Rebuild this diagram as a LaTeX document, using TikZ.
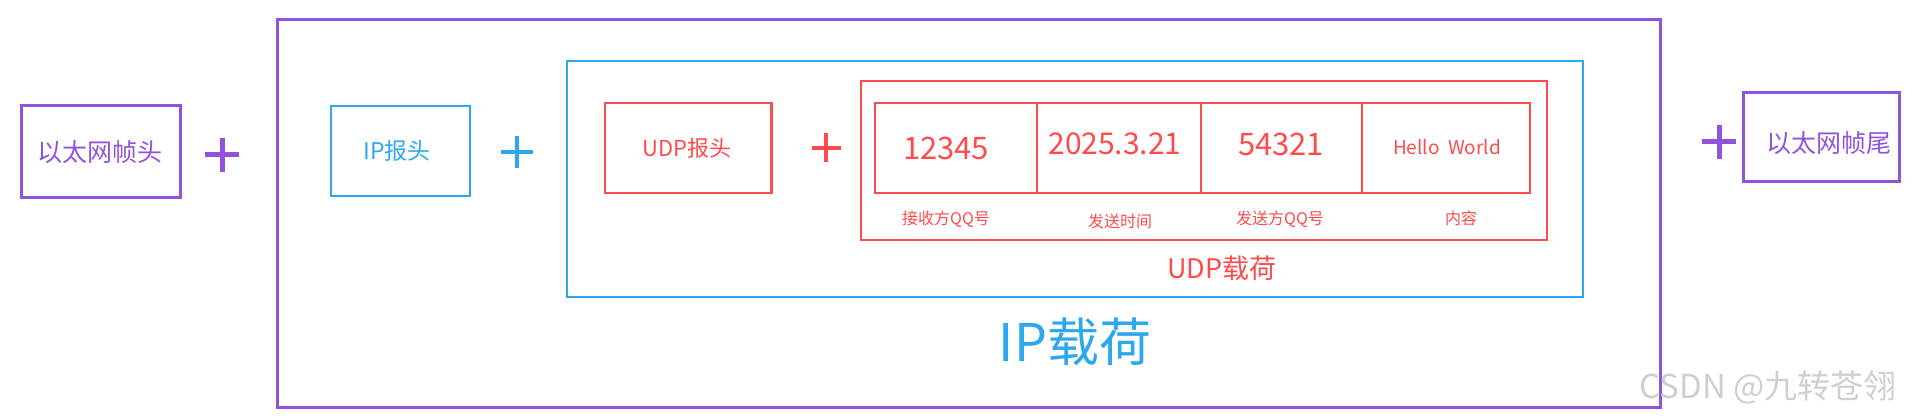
\documentclass[tikz,border=0pt]{standalone}
\usepackage{fontspec}
\setmainfont{Noto Sans CJK SC}
\definecolor{pur}{HTML}{9152DE}
\definecolor{blu}{HTML}{2BA8EE}
\definecolor{rd}{HTML}{FF4B4B}
\definecolor{wm}{HTML}{CFCFCF}
\begin{document}
\begin{tikzpicture}[x=1pt,y=-1pt,
  box/.style={draw, rectangle, inner sep=0pt},
  pbox/.style={box, draw=pur, line width=3pt},
  bbox/.style={box, draw=blu, line width=2pt},
  rbox/.style={box, draw=rd, line width=2.5pt},
  lbl/.style={inner sep=0pt, anchor=center},
  plusmark/.style={line width=#1, line cap=butt}
]
\useasboundingbox (0,0) rectangle (1916,419);
% outer ethernet-frame pieces
\node[pbox, minimum width=159pt, minimum height=92pt] (eh) at (100.5,152) {};
\node[lbl, text=pur, font=\fontsize{25}{25}\selectfont] (ehT) at (100,152) {以太网帧头};
\node[pbox, minimum width=1383pt, minimum height=387pt] (outer) at (968.5,213.5) {};
\node[pbox, minimum width=156pt, minimum height=89pt] (et) at (1821,137.5) {};
\node[lbl, text=pur, font=\fontsize{25}{25}\selectfont] (etT) at (1829,143) {以太网帧尾};
% IP
\node[bbox, minimum width=139.5pt, minimum height=90pt] (iph) at (400.3,151) {};
\node[lbl, text=blu, font=\fontsize{23}{23}\selectfont] (iphT) at (397,151) {IP报头};
\node[bbox, minimum width=1016pt, minimum height=236pt] (ipp) at (1075,179) {};
\node[lbl, text=blu, font=\fontsize{52}{52}\selectfont] (ippT) at (1075,342) {IP载荷};
% UDP
\node[rbox, minimum width=166.5pt, minimum height=90pt] (udph) at (688.2,148) {};
\node[lbl, text=rd, font=\fontsize{22}{22}\selectfont] (udphT) at (687,148) {UDP报头};
\node[rbox, minimum width=686pt, minimum height=159pt] (udpp) at (1204,160.5) {};
\node[lbl, text=rd, font=\fontsize{27}{27}\selectfont] (udppT) at (1222,268) {UDP载荷};
% cells
\node[rbox, minimum width=162pt, minimum height=90pt] (c1) at (956,148) {};
\node[rbox, minimum width=164pt, minimum height=90pt] (c2) at (1119,148) {};
\node[rbox, minimum width=161pt, minimum height=90pt] (c3) at (1281.5,148) {};
\node[rbox, minimum width=168pt, minimum height=90pt] (c4) at (1446,148) {};
\node[lbl, text=rd, font=\fontsize{31}{31}\selectfont] (v1) at (946,148) {12345};
\node[lbl, text=rd, font=\fontsize{30}{30}\selectfont] (v2) at (1115,144) {2025.3.21};
\node[lbl, text=rd, font=\fontsize{31}{31}\selectfont] (v3) at (1281,144) {54321};
\node[lbl, text=rd, font=\fontsize{19}{19}\selectfont] (v4) at (1447,147) {Hello\ \ World};
\node[lbl, text=rd, font=\fontsize{16}{16}\selectfont] (s1) at (946,219) {接收方QQ号};
\node[lbl, text=rd, font=\fontsize{16}{16}\selectfont] (s2) at (1120,221) {发送时间};
\node[lbl, text=rd, font=\fontsize{16}{16}\selectfont] (s3) at (1280,219) {发送方QQ号};
\node[lbl, text=rd, font=\fontsize{16}{16}\selectfont] (s4) at (1461,218) {内容};
% plus signs
\coordinate (p1) at (222,155);
\coordinate (p2) at (517,152);
\coordinate (p3) at (826,148);
\coordinate (p4) at (1719,142);
\draw[pur, plusmark=5pt] ([xshift=-17pt]p1) -- ([xshift=17pt]p1) ([yshift=-17pt]p1) -- ([yshift=17pt]p1);
\draw[blu, plusmark=4.5pt] ([xshift=-16pt]p2) -- ([xshift=16pt]p2) ([yshift=-16pt]p2) -- ([yshift=16pt]p2);
\draw[rd, plusmark=4pt] ([xshift=-14.5pt]p3) -- ([xshift=14.5pt]p3) ([yshift=-14.5pt]p3) -- ([yshift=14.5pt]p3);
\draw[pur, plusmark=5pt] ([xshift=-17pt]p4) -- ([xshift=17pt]p4) ([yshift=-17pt]p4) -- ([yshift=17pt]p4);
% watermark
\node[lbl, text=wm, font=\fontsize{33}{33}\selectfont] (wmk) at (1768,387) {CSDN @九转苍翎};
\end{tikzpicture}
\end{document}
